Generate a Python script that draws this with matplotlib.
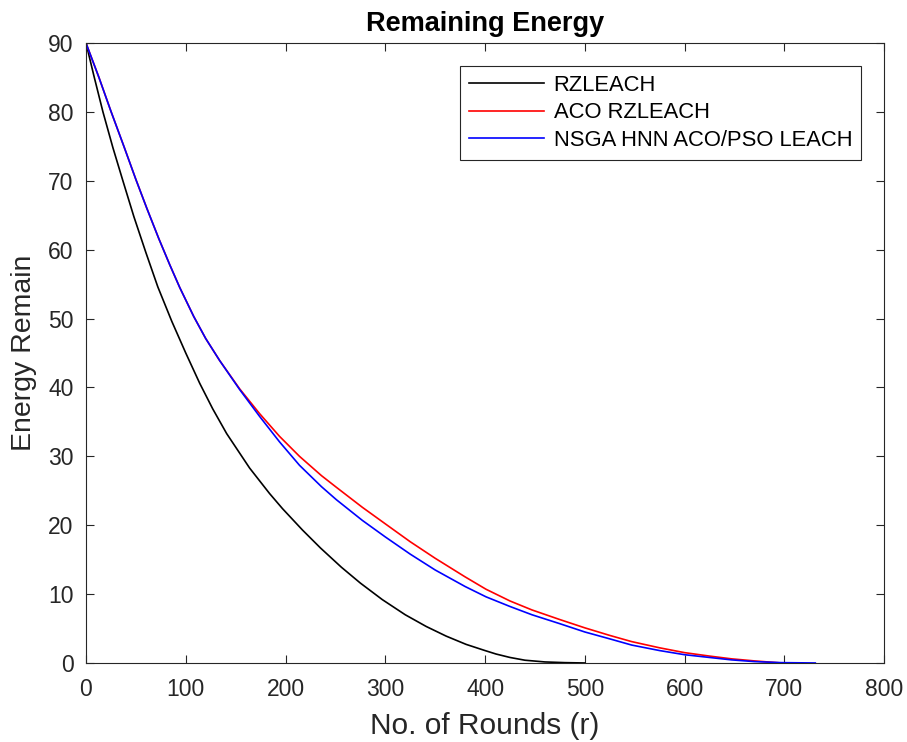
import matplotlib
matplotlib.use("Agg")
import matplotlib.pyplot as plt

plt.rcParams['font.family'] = ['Liberation Sans', 'DejaVu Sans']

# ── Data ──────────────────────────────────────────────────────────────────
rz_rounds = [0, 8, 17, 27, 37, 48, 60, 72, 86, 100, 114, 127, 141, 164, 184,
             197, 217, 235, 256, 275, 297, 320, 341, 361, 381, 400, 411, 425,
             440, 460, 480, 500]
rz_energy = [90, 85.2, 80, 74.8, 70, 64.8, 59.6, 54.6, 49.6, 45.0, 40.6, 36.9,
             33.3, 28.3, 24.6, 22.4, 19.3, 16.7, 13.9, 11.6, 9.2, 7.0, 5.3,
             3.9, 2.7, 1.8, 1.3, 0.8, 0.4, 0.15, 0.05, 0]

aco_rounds = [0, 13, 25, 38, 50, 61, 73, 84, 94, 108, 120, 134, 154, 174, 194,
              214, 236, 251, 277, 300, 325, 350, 380, 401, 425, 447, 475, 500,
              525, 547, 575, 600, 625, 647, 670, 697]
aco_energy = [90, 85, 80.1, 75, 70.2, 66, 61.6, 57.8, 54.5, 50.3, 47.1, 43.9,
              39.8, 36.2, 32.9, 30.0, 27.2, 25.5, 22.6, 20.2, 17.6, 15.2, 12.5,
              10.7, 9.0, 7.7, 6.3, 5.1, 4.0, 3.1, 2.2, 1.5, 1.0, 0.6, 0.3, 0]

nsga_rounds = [0, 13, 25, 38, 50, 61, 73, 84, 94, 108, 120, 134, 154, 174,
               194, 214, 236, 251, 277, 300, 325, 350, 380, 401, 425, 447, 475,
               500, 525, 547, 575, 600, 625, 647, 670, 697, 731]
nsga_energy = [90, 85, 80.1, 75, 70.2, 66, 61.6, 57.8, 54.5, 50.3, 47.1, 43.9,
               39.7, 35.8, 32.1, 28.7, 25.6, 23.7, 20.7, 18.3, 15.8, 13.5, 11.1,
               9.6, 8.2, 7.0, 5.7, 4.5, 3.5, 2.6, 1.8, 1.2, 0.8, 0.45, 0.2,
               0.05, 0]

labels = ['RZLEACH', 'ACO RZLEACH', 'NSGA HNN ACO/PSO LEACH']

# ── Plot ──────────────────────────────────────────────────────────────────
fig = plt.figure(figsize=(9.07, 7.42), dpi=100)
ax = fig.add_axes([0.0948, 0.1065, 0.88, 0.8355])

ax.plot(rz_rounds, rz_energy, color='black', linewidth=1.2, label=labels[0])
ax.plot(aco_rounds, aco_energy, color='red', linewidth=1.2, label=labels[1])
ax.plot(nsga_rounds, nsga_energy, color='blue', linewidth=1.2, label=labels[2])

ax.set_xlim(0, 800)
ax.set_ylim(0, 90)
ax.set_xticks(range(0, 801, 100))
ax.set_yticks(range(0, 91, 10))

ax.tick_params(direction='in', top=True, right=True, length=6, width=0.8,
               labelsize=16.5, colors='#262626')
ax.tick_params(axis='x', pad=11)
ax.tick_params(axis='y', pad=9)
for s in ax.spines.values():
    s.set_color('#262626')
    s.set_linewidth(0.8)

ax.set_title("Remaining Energy", fontsize=19.5, fontweight='bold', pad=9)
ax.set_xlabel("No. of Rounds (r)", fontsize=21.5, color='#262626', labelpad=8)
ax.set_ylabel("Energy Remain", fontsize=20.5, color='#262626', labelpad=8)

leg = ax.legend(loc='upper right', bbox_to_anchor=(0.971, 0.963),
                borderaxespad=0, fontsize=15.8, fancybox=False, framealpha=1,
                edgecolor='#262626', handlelength=3.4, handletextpad=0.45,
                borderpad=0.4, labelspacing=0.3)
leg.get_frame().set_linewidth(0.8)

plt.savefig("out.png", dpi=100)
